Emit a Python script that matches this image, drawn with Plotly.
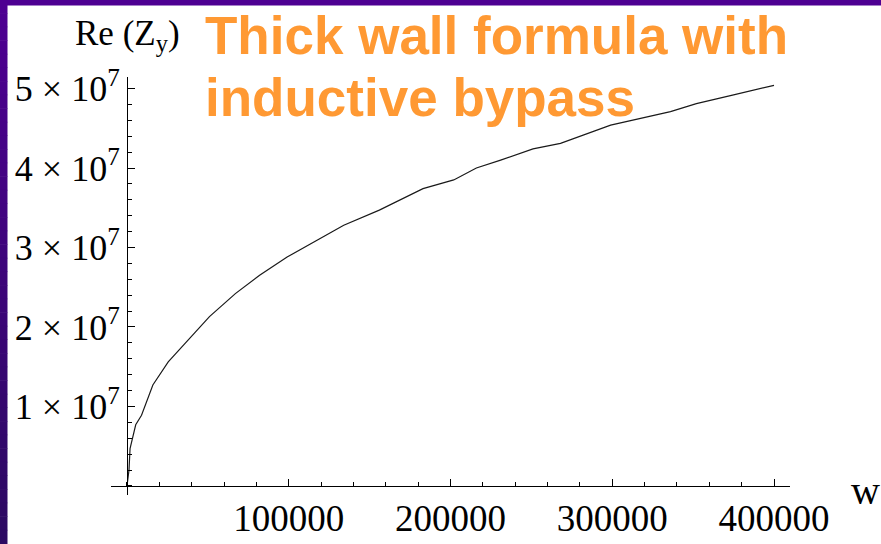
import plotly.graph_objects as go

# Frequency w and real part of the transverse impedance Re(Z_y)
w = [0, 1250, 1900, 5400, 9000, 16000, 25500, 34000, 43000, 51000, 67000,
     82000, 99000, 115000, 134000, 156000, 167000, 183000, 202000, 216000,
     231000, 251000, 268000, 299000, 336000, 352000, 375000, 400000]
re_zy = [0, 2.0e6, 4.7e6, 7.7e6, 8.9e6, 12.7e6, 15.6e6, 17.5e6, 19.6e6,
         21.3e6, 24.2e6, 26.5e6, 28.8e6, 30.6e6, 32.8e6, 34.7e6, 35.8e6,
         37.4e6, 38.5e6, 40.0e6, 41.0e6, 42.4e6, 43.1e6, 45.4e6, 47.1e6,
         48.1e6, 49.2e6, 50.4e6]

x_ticks = [100000, 200000, 300000, 400000]
x_ticktext = ["100000", "200000", "300000", "400000"]
y_ticks = [1e7, 2e7, 3e7, 4e7, 5e7]
y_ticktext = ["%d \u00d7 10<sup>7</sup>" % k for k in range(1, 6)]

W, H = 881, 544
SERIF = "Liberation Serif"

fig = go.Figure()
fig.add_trace(go.Scatter(x=w, y=re_zy, mode="lines",
                         line=dict(color="#1a1a1a", width=1.2),
                         hoverinfo="skip", showlegend=False))

x_range = [-10000, 410000]
y_range = [-1.1e6, 5.14e7]
x_dom = [110.8 / W, 790.2 / W]
y_dom = [(H - 494.7) / H, (H - 77.4) / H]

# axes cross at the origin, like a Mathematica "Axes" plot
x_origin_px = x_dom[0] * W + (0 - x_range[0]) / (x_range[1] - x_range[0]) * (x_dom[1] - x_dom[0]) * W
y_origin_frac = y_dom[0] + (0 - y_range[0]) / (y_range[1] - y_range[0]) * (y_dom[1] - y_dom[0])

fig.update_xaxes(domain=x_dom, range=x_range, anchor="free", position=y_origin_frac,
                 automargin=False,
                 showline=True, linecolor="black", linewidth=1, showgrid=False,
                 zeroline=False, ticks="inside", ticklen=7, tickwidth=1,
                 tickcolor="black", tickmode="array", tickvals=x_ticks,
                 ticktext=x_ticktext,
                 tickfont=dict(family=SERIF, size=37, color="black"),
                 minor=dict(tickmode="array",
                            tickvals=list(range(0, 410001, 20000)),
                            ticks="inside", ticklen=4, tickcolor="black",
                            showgrid=False))
fig.update_yaxes(domain=y_dom, range=y_range, anchor="free",
                 position=x_origin_px / W, automargin=False,
                 showline=True, linecolor="black", linewidth=1, showgrid=False,
                 zeroline=False, ticks="inside", ticklen=7, tickwidth=1,
                 tickcolor="black", tickmode="array", tickvals=y_ticks,
                 ticktext=y_ticktext,
                 tickfont=dict(family=SERIF, size=36, color="black"),
                 minor=dict(tickmode="array",
                            tickvals=[k * 2e6 for k in range(0, 26)],
                            ticks="inside", ticklen=4, tickcolor="black",
                            showgrid=False))

# slide frame: purple bar on top and a vertical gradient bar on the left
shapes = [dict(type="rect", xref="paper", yref="paper", x0=0, x1=1,
               y0=1 - 5.5 / H, y1=1, fillcolor="#4e0092", line_width=0,
               layer="above")]
bands = 40
top_c, bot_c = (78, 0, 146), (44, 10, 98)
for i in range(bands):
    t = i / (bands - 1)
    c = tuple(round(top_c[j] + (bot_c[j] - top_c[j]) * t) for j in range(3))
    shapes.append(dict(type="rect", xref="paper", yref="paper", x0=0, x1=7.5 / W,
                       y0=1 - (i + 1) / bands, y1=1 - i / bands + 0.001,
                       fillcolor="rgb(%d,%d,%d)" % c, line_width=0, layer="above"))
fig.update_layout(shapes=shapes)

ORANGE = "#ff9933"
annotations = [
    dict(text="Re (Z<sub>y</sub>)", x=127 / W, y=1 - 35 / H, xanchor="center",
         yanchor="middle", font=dict(family=SERIF, size=35, color="black")),
    dict(text="w", x=865 / W, y=1 - 490 / H, xanchor="center", yanchor="middle",
         font=dict(family=SERIF, size=40, color="black")),
    dict(text="<b>Thick wall formula with</b>", x=203 / W, y=1 - 35 / H,
         xanchor="left", yanchor="middle",
         font=dict(family="Liberation Sans", size=53, color=ORANGE)),
    dict(text="<b>inductive bypass</b>", x=203 / W, y=1 - 97 / H,
         xanchor="left", yanchor="middle",
         font=dict(family="Liberation Sans", size=53, color=ORANGE)),
]
for a in annotations:
    a.update(xref="paper", yref="paper", showarrow=False)
fig.update_layout(annotations=annotations)

fig.update_layout(width=W, height=H, margin=dict(l=0, r=0, t=0, b=0),
                  paper_bgcolor="white", plot_bgcolor="white")

page_css = ("document.body.style.margin='0';"
            "document.body.style.overflow='hidden';")
fig.write_html("out.html", config={"responsive": False, "displayModeBar": False},
               post_script=page_css)
